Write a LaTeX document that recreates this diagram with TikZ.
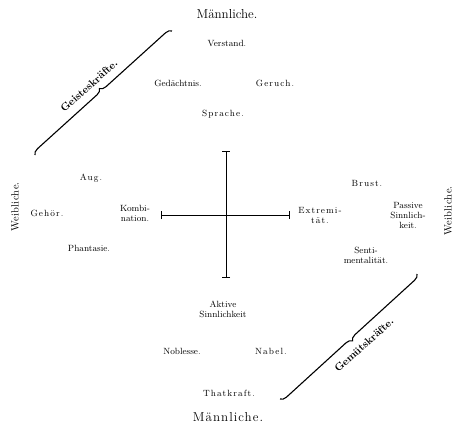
\documentclass[tikz,border=0pt]{standalone}
\usepackage{fontspec}
\setmainfont{Latin Modern Roman}
\newfontfamily\spacedfont[LetterSpace=12]{Latin Modern Roman}
\newfontfamily\widefont[LetterSpace=8]{Latin Modern Roman}
\newfontfamily\sidefont[LetterSpace=3]{Latin Modern Roman}
\usetikzlibrary{decorations.pathreplacing,arrows.meta}
\tikzset{
  word/.style={font=\fontsize{9}{10}\selectfont, align=center, inner sep=0pt},
  big/.style={font=\fontsize{13}{14}\selectfont, inner sep=0pt},
  side/.style={font=\fontsize{10.5}{12}\selectfont\sidefont, inner sep=0pt, rotate=90},
  bracelbl/.style={font=\fontsize{10.5}{12}\selectfont\bfseries, inner sep=0pt},
  crossline/.style={line width=0.9pt, {Bar[width=8pt]}-{Bar[width=8pt]}},
  bracepath/.style={line width=1.1pt, decorate, decoration={brace, amplitude=6pt, aspect=0.5}}
}
\begin{document}
\begin{tikzpicture}[x=1pt,y=-1pt]
\useasboundingbox (0,0) rectangle (455,425);
% top
\node[big] (mtop) at (227,14) {Männliche.};
\node[word] (verstand) at (227,43) {Verstand.};
\node[word] (gedaechtnis) at (178,83) {Gedächtnis.};
\node[word] (geruch) at (275,83) {\spacedfont Geruch.};
\node[word] (sprache) at (223,114) {\spacedfont Sprache.};
% left
\node[side] (wleft) at (15,207) {Weibliche.};
\node[word] (aug) at (91,178) {\spacedfont Aug.};
\node[word] (gehoer) at (47,213) {\spacedfont Gehör.};
\node[word] (kombi) at (135,213) {Kombi-\\nation.};
\node[word] (phantasie) at (89,248) {Phantasie.};
% right
\node[side] (wright) at (448,211) {Weibliche.};
\node[word] (extrem) at (320,215) {\spacedfont Extremi-\\\spacedfont tät.};
\node[word] (brust) at (367,183) {\spacedfont Brust.};
\node[word] (passiv) at (408,215) {Passive\\Sinnlich-\\keit.};
\node[word] (senti) at (366,255) {Senti-\\mentalität.};
% bottom
\node[word] (aktiv) at (223,309) {Aktive\\Sinnlichkeit};
\node[word] (noblesse) at (182,351) {Noblesse.};
\node[word] (nabel) at (271,351) {\spacedfont Nabel.};
\node[word] (thatkraft) at (229,393) {\spacedfont Thatkraft.};
\node[big] (mbot) at (228,417) {\widefont Männliche.};
% cross
\coordinate (ctop) at (226,151);
\coordinate (cbot) at (226,278);
\coordinate (cleft) at (161,215);
\coordinate (cright) at (290,215);
\draw[crossline] (ctop) -- (cbot);
\draw[crossline] (cleft) -- (cright);
% braces
\coordinate (b1s) at (35,155);
\coordinate (b1e) at (172,31);
\draw[bracepath] (b1s) -- (b1e);
\node[bracelbl, rotate=42] (geist) at (89,86) {Geisteskräfte.};
\coordinate (b2s) at (417,274);
\coordinate (b2e) at (280,399);
\draw[bracepath] (b2s) -- (b2e);
\node[bracelbl, rotate=42] (gemuet) at (364,345) {Gemütskräfte.};
\end{tikzpicture}
\end{document}
